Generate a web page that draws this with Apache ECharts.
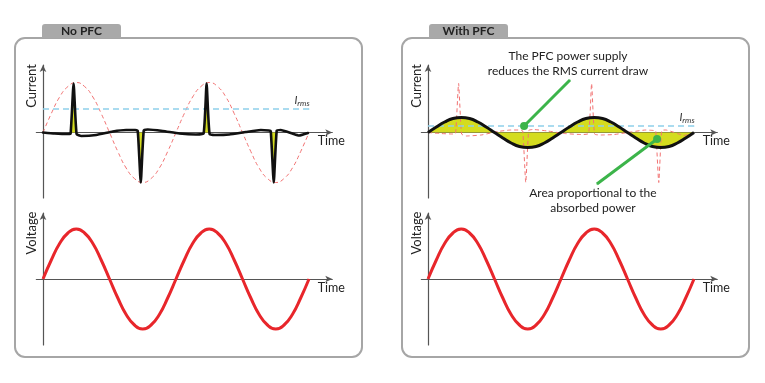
<!DOCTYPE html>
<html>
<head>
<meta charset="utf-8">
<script src="https://cdn.jsdelivr.net/npm/echarts@6/dist/echarts.min.js"></script>
<style>
html,body{margin:0;padding:0;background:#fff;}
#chart{width:765px;height:383px;}
</style>
</head>
<body>
<div id="chart"></div>
<script>
// ---- data (time in quarter-periods, amplitude relative to the mains peak) ----
const sineTime = [0,0.25,0.5,0.75,1,1.25,1.5,1.75,2,2.25,2.5,2.75,3,3.25,3.5,3.75,4,4.25,4.5,4.75,5,5.25,5.5,5.75,6,6.25,6.5,6.75,7,7.25,7.5,7.75,8];
const voltage = [0,0.38,0.71,0.92,1,0.92,0.71,0.38,0,-0.38,-0.71,-0.92,-1,-0.92,-0.71,-0.38,0,0.38,0.71,0.92,1,0.92,0.71,0.38,0,-0.38,-0.71,-0.92,-1,-0.92,-0.71,-0.38,0];
const idealCurrent = [0,0.38,0.71,0.92,1,0.92,0.71,0.38,0,-0.38,-0.71,-0.92,-1,-0.92,-0.71,-0.38,0,0.38,0.71,0.92,1,0.92,0.71,0.38,0,-0.38,-0.71,-0.92,-1,-0.92,-0.71,-0.38,0];
const pfcCurrent = [0,0.11,0.21,0.28,0.3,0.28,0.21,0.11,0,-0.11,-0.21,-0.28,-0.3,-0.28,-0.21,-0.11,0,0.11,0.21,0.28,0.3,0.28,0.21,0.11,0,-0.11,-0.21,-0.28,-0.3,-0.28,-0.21,-0.11,0];
const noPfcTime = [0,0.35,0.75,0.83,0.92,1.01,1.15,1.6,2.1,2.5,2.77,2.85,2.94,3.03,3.15,3.6,4.1,4.6,4.83,4.92,5.01,5.2,5.6,6.1,6.55,6.79,6.85,6.94,7.03,7.15,7.5,7.7,7.97];
const noPfcCurrent = [0,-0.02,-0.03,-0.02,0.98,-0.03,-0.07,-0.05,0.02,0.05,0.05,0.03,-1.0,0.04,0.06,0.03,-0.02,-0.04,-0.02,0.98,-0.03,-0.05,-0.04,0.01,0.05,0.04,0.03,-1.0,0.04,0.05,-0.02,-0.06,-0.01];
const rmsNoPfc = 0.47;
const rmsPfc = 0.13;
const rmsSpan = [0, 8];
const notePfc = [[4.27, 1.05], [2.89, 0.13]];
const noteArea = [[5.08, -1.03], [6.89, -0.13]];
const tabLabels = ['No PFC', 'With PFC'];
const axisNames = ['Current', 'Voltage', 'Time'];

// ---- helpers ----
const pair = (ts, vs) => ts.map((t, i) => [t, vs[i]]);
const noPfc = pair(noPfcTime, noPfcCurrent);
const spikeFill = noPfc.map((p, i) => {
  const near = [i - 1, i, i + 1].some(j => j >= 0 && j < noPfc.length && Math.abs(noPfc[j][1]) > 0.5);
  return near ? [p[0], Math.abs(p[1]) > 0.5 ? p[1] : 0] : [p[0], null];
});

const FONT = 'Lato, "Open Sans", sans-serif';
const YELLOW = '#d4dc1f';
const GREEN = '#3cb44a';
const RED = '#e8262b';
const PINK = '#f27272';
const BLUE = '#8fd0ea';
const AXIS = '#555';

const U = 33.25;          // px per quarter period
const tMin = -0.2, tMax = 8.7;
const panelX = [43, 428];
const grids = [];
const xAxes = [];
const yAxes = [];
const rows = [{top: 65, min: -1.31, max: 1.35}, {top: 213, min: -1.32, max: 1.32}];
panelX.forEach(px => {
  rows.forEach(r => {
    grids.push({left: px + tMin * U, width: (tMax - tMin) * U, top: r.top, height: (r.max - r.min) * 50});
    const gi = grids.length - 1;
    xAxes.push({
      type: 'value', gridIndex: gi, min: tMin, max: tMax,
      name: axisNames[2], nameLocation: 'end', nameGap: -1,
      nameTextStyle: {fontFamily: FONT, fontSize: 12.5, color: '#222', align: 'center', verticalAlign: 'top', padding: [2, 0, 0, 0]},
      axisLine: {onZero: true, symbol: ['none', 'arrow'], symbolSize: [5, 7], lineStyle: {color: AXIS, width: 1.2}},
      axisTick: {show: false}, axisLabel: {show: false}, splitLine: {show: false}
    });
    yAxes.push({
      type: 'value', gridIndex: gi, min: r.min, max: r.max,
      axisLine: {onZero: true, symbol: ['none', 'arrow'], symbolSize: [5, 7], lineStyle: {color: AXIS, width: 1.2}},
      axisTick: {show: false}, axisLabel: {show: false}, splitLine: {show: false}
    });
  });
});

const rmsLabel = {
  show: true, position: 'top', distance: 1, offset: [-7, 0],
  formatter: '{i|I}{s|rms}',
  rich: {
    i: {fontFamily: FONT, fontStyle: 'italic', fontSize: 11, color: '#333'},
    s: {fontFamily: FONT, fontStyle: 'italic', fontSize: 8, color: '#333', padding: [6, 0, 0, 0]}
  }
};
const rmsSeries = (gi, level) => ({
  type: 'line', xAxisIndex: gi, yAxisIndex: gi, symbol: 'none', z: 4,
  lineStyle: {color: BLUE, width: 1.5, type: [6, 4]}, itemStyle: {color: BLUE},
  data: [[rmsSpan[0], level], {value: [rmsSpan[1], level], symbol: 'circle', symbolSize: 1, label: rmsLabel}]
});
const noteStyle = {fontFamily: FONT, fontSize: 12, color: '#222', lineHeight: 15, align: 'center'};

const series = [
  // left current
  {type: 'line', xAxisIndex: 0, yAxisIndex: 0, data: pair(sineTime, idealCurrent), smooth: true, symbol: 'none', z: 2,
   lineStyle: {color: PINK, width: 1, type: [4, 3]}},
  rmsSeries(0, rmsNoPfc),
  {type: 'line', xAxisIndex: 0, yAxisIndex: 0, data: spikeFill, symbol: 'none', z: 3, connectNulls: false,
   lineStyle: {width: 0}, areaStyle: {color: YELLOW, opacity: 1}},
  {type: 'line', xAxisIndex: 0, yAxisIndex: 0, data: noPfc, smooth: 0.15, symbol: 'none', z: 5,
   lineStyle: {color: '#111', width: 2.6, join: 'round', cap: 'round'}},
  // left voltage
  {type: 'line', xAxisIndex: 1, yAxisIndex: 1, data: pair(sineTime, voltage), smooth: true, symbol: 'none', z: 5,
   lineStyle: {color: RED, width: 3}},
  // right current
  {type: 'line', xAxisIndex: 2, yAxisIndex: 2, data: pair(sineTime, pfcCurrent), smooth: true, symbol: 'none', z: 2,
   lineStyle: {width: 0}, areaStyle: {color: YELLOW, opacity: 1}},
  {type: 'line', xAxisIndex: 2, yAxisIndex: 2, data: noPfc, smooth: 0.15, symbol: 'none', z: 3,
   lineStyle: {color: PINK, width: 1, type: [4, 3]}},
  rmsSeries(2, rmsPfc),
  {type: 'line', xAxisIndex: 2, yAxisIndex: 2, data: pair(sineTime, pfcCurrent), smooth: true, symbol: 'none', z: 5,
   lineStyle: {color: '#111', width: 3}},
  {type: 'line', xAxisIndex: 2, yAxisIndex: 2, z: 6, lineStyle: {color: GREEN, width: 3}, itemStyle: {color: GREEN},
   data: [
     {value: notePfc[0], symbol: 'circle', symbolSize: 1,
      label: Object.assign({show: true, position: 'top', distance: 1, offset: [-2, 0],
        formatter: 'The PFC power supply\nreduces the RMS current draw'}, noteStyle)},
     {value: notePfc[1], symbol: 'circle', symbolSize: 8}
   ]},
  {type: 'line', xAxisIndex: 2, yAxisIndex: 2, z: 6, lineStyle: {color: GREEN, width: 3}, itemStyle: {color: GREEN},
   data: [
     {value: noteArea[0], symbol: 'circle', symbolSize: 1,
      label: Object.assign({show: true, position: 'bottom', distance: 1, offset: [-4, 0],
        formatter: 'Area proportional to the\nabsorbed power'}, noteStyle)},
     {value: noteArea[1], symbol: 'circle', symbolSize: 8}
   ]},
  // right voltage
  {type: 'line', xAxisIndex: 3, yAxisIndex: 3, data: pair(sineTime, voltage), smooth: true, symbol: 'none', z: 5,
   lineStyle: {color: RED, width: 3}}
];

// panels, tabs, vertical axis titles
const graphic = [];
[[15, 42, 0], [402, 429, 1]].forEach(([bx, tx, k]) => {
  graphic.push({type: 'rect', z: -10, shape: {x: bx, y: 38, width: 347, height: 319, r: 10},
    style: {fill: '#fff', stroke: '#a6a6a6', lineWidth: 2}});
  graphic.push({type: 'rect', z: -9, shape: {x: tx, y: 24, width: 79, height: 14, r: [3, 3, 0, 0]},
    style: {fill: '#a9a9a9'}});
  graphic.push({type: 'text', z: -8, x: tx + 39.5, y: 31.5,
    style: {text: tabLabels[k], font: 'bold 12px ' + FONT, fill: '#222', align: 'center', verticalAlign: 'middle'}});
});
[[32, 86, 0], [32, 233, 1], [417, 86, 0], [417, 233, 1]].forEach(([x, y, k]) => {
  graphic.push({type: 'text', x: x, y: y, rotation: Math.PI / 2,
    style: {text: axisNames[k], font: '13px ' + FONT, fill: '#222', align: 'center', verticalAlign: 'middle'}});
});

const chart = echarts.init(document.getElementById('chart'), null, {renderer: 'canvas'});
chart.setOption({
  animation: false,
  backgroundColor: '#fff',
  grid: grids,
  xAxis: xAxes,
  yAxis: yAxes,
  graphic: graphic,
  series: series
});
</script>
</body>
</html>
